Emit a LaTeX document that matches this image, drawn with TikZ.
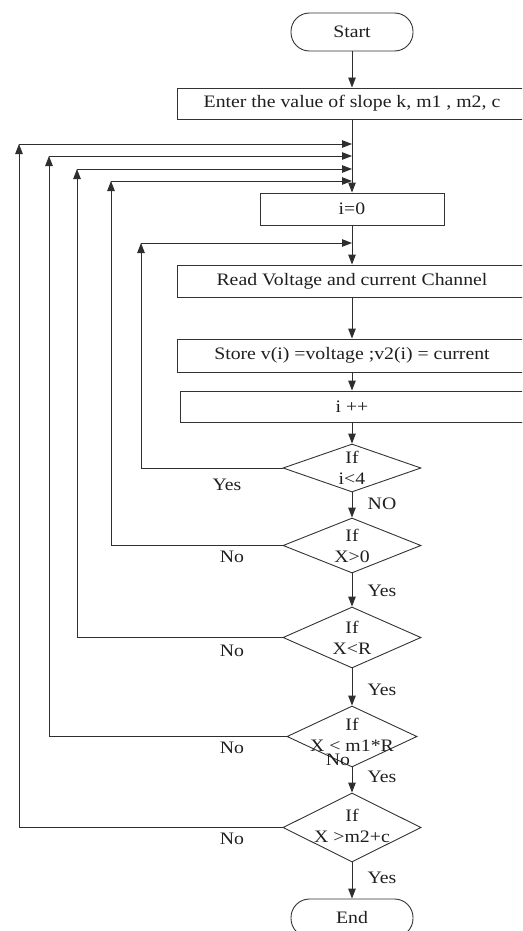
\documentclass[tikz,border=0pt]{standalone}
\usepackage{fontspec}
\setmainfont{Liberation Serif}[FakeStretch=1.13]
\usetikzlibrary{shapes.geometric,arrows.meta}
\begin{document}
\begin{tikzpicture}[x=1pt,y=-1pt,
  every node/.style={text=black!88, font=\fontsize{17.5}{21}\selectfont},
  flow/.style={draw=black!82, line width=0.9pt},
  arr/.style={flow, -{Triangle[length=10pt,width=7.5pt]}},
  term/.style={draw=black!80, line width=0.9pt, rectangle, rounded corners=18.5pt, minimum width=122pt, minimum height=38pt, inner sep=0pt},
  procbox/.style={draw=black!80, line width=0.9pt, rectangle, inner sep=0pt},
  decide/.style={draw=black!80, line width=0.9pt, diamond, inner sep=0pt, aspect=2},
  dtext/.style={align=center, inner sep=0pt},
  lbl/.style={inner sep=0pt}
]
\useasboundingbox (0,0) rectangle (522,931);
\clip (0,0) rectangle (522,931);

% nodes
\node[term] (start) at (352,32) {Start};
\node[procbox, minimum width=350pt, minimum height=31pt] (enter) at (352,103.5) {Enter the value of slope k, m1 , m2, c};
\node[procbox, minimum width=184pt, minimum height=32pt] (i0) at (352,209) {i=0};
\node[procbox, minimum width=350pt, minimum height=32pt] (read) at (352,281) {Read Voltage and current Channel};
\node[procbox, minimum width=350pt, minimum height=33pt] (store) at (352,355.5) {Store v(i) =voltage ;v2(i) = current};
\node[procbox, minimum width=344pt, minimum height=31pt] (inc) at (352,406.5) {i ++};

\node[decide, minimum width=138pt, minimum height=48pt] (d1) at (352,468) {};
\node[dtext] (d1t) at (352,468) {If\\i<4};
\node[decide, minimum width=138pt, minimum height=55pt] (d2) at (352,545.5) {};
\node[dtext] (d2t) at (352,545.5) {If\\X>0};
\node[decide, minimum width=138pt, minimum height=61pt] (d3) at (352,637.5) {};
\node[dtext] (d3t) at (352,637.5) {If\\X<R};
\node[decide, minimum width=130pt, minimum height=61pt] (d4) at (352,736.5) {};
\node[dtext] (d4t) at (352,735) {If\\X < m1*R};
\node[decide, minimum width=138pt, minimum height=69pt] (d5) at (352,827.5) {};
\node[dtext] (d5t) at (352,826) {If\\X >m2+c};

\node[term] (end) at (352,918) {End};

% join coordinates
\coordinate (c1) at (141,243);  \coordinate (j1) at (352,243);
\coordinate (c2) at (111,181);  \coordinate (j2) at (352,181);
\coordinate (c3) at (77,169);   \coordinate (j3) at (352,169);
\coordinate (c4) at (49,156);   \coordinate (j4) at (352,156);
\coordinate (c5) at (19,144);   \coordinate (j5) at (352,144);

% main flow
\draw[arr] (start) -- (enter);
\draw[arr] (enter) -- (i0);
\draw[arr] (i0) -- (read);
\draw[arr] (read) -- (store);
\draw[arr] (store) -- (inc);
\draw[arr] (inc) -- (d1);
\draw[arr] (d1) -- (d2);
\draw[arr] (d2) -- (d3);
\draw[arr] (d3) -- (d4);
\draw[arr] (d4) -- (d5);
\draw[arr] (d5) -- (end);

% loops back
\draw[arr] (d1.west) -| (c1);
\draw[arr] (c1) -- (j1);
\draw[arr] (d2.west) -| (c2);
\draw[arr] (c2) -- (j2);
\draw[arr] (d3.west) -| (c3);
\draw[arr] (c3) -- (j3);
\draw[arr] (d4.west) -| (c4);
\draw[arr] (c4) -- (j4);
\draw[arr] (d5.west) -| (c5);
\draw[arr] (c5) -- (j5);

% labels
\node[lbl] (y1) at (227,485) {Yes};
\node[lbl] (n1) at (382,504) {NO};
\node[lbl] (n2) at (232,557) {No};
\node[lbl] (y2) at (382,591) {Yes};
\node[lbl] (n3) at (232,651) {No};
\node[lbl] (y3) at (382,690) {Yes};
\node[lbl] (n4) at (232,748) {No};
\node[lbl] (n4b) at (338,760) {No};
\node[lbl] (y4) at (382,777) {Yes};
\node[lbl] (n5) at (232,839) {No};
\node[lbl] (y5) at (382,878) {Yes};
\end{tikzpicture}
\end{document}
